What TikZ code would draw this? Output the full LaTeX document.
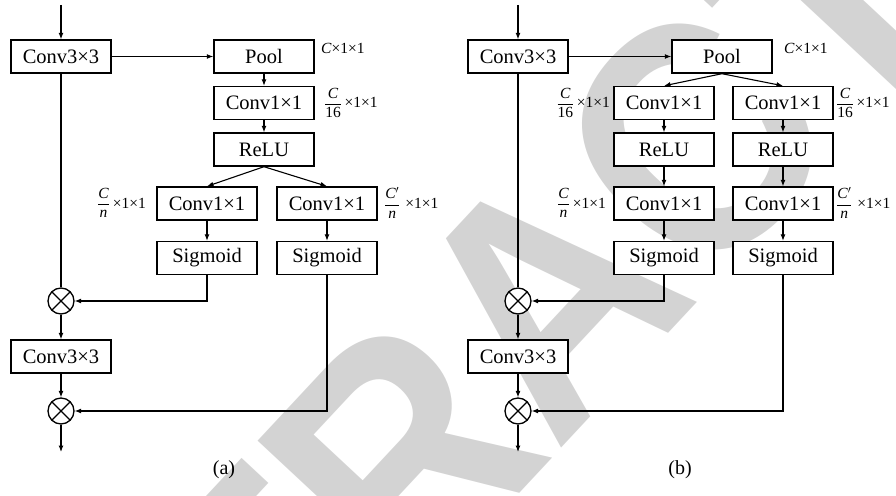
\documentclass[tikz,border=0pt]{standalone}
\usepackage{graphicx}
\usepackage{fontspec}
\setmainfont{Liberation Serif}
\newfontfamily\wmfont{Liberation Sans}
\usetikzlibrary{arrows.meta}
\definecolor{wmgray}{RGB}{211,211,211}
\newcommand{\dimfrac}[2]{$\displaystyle\frac{\mbox{\itshape #1}}{\mbox{#2}}$}
\tikzset{
  blk/.style={draw, fill=white, line width=1.4pt, minimum width=100pt,
    minimum height=33pt, inner sep=0pt, font=\fontsize{20.5}{24}\selectfont},
  mult/.style={draw, circle, fill=white, line width=1.3pt, minimum size=26pt,
    inner sep=0pt, path picture={
      \draw[line width=1.2pt] (path picture bounding box.south west) -- (path picture bounding box.north east)
        (path picture bounding box.north west) -- (path picture bounding box.south east);}},
  dimlbl/.style={inner sep=0pt, font=\fontsize{15.5}{17}\selectfont},
  subcap/.style={font=\fontsize{20}{24}\selectfont},
  arr/.style={line width=1.1pt, -{Latex[length=6.5pt,width=5pt]}},
  ln/.style={line width=1.1pt},
}
\begin{document}
\begin{tikzpicture}[x=1pt, y=-1pt]
\useasboundingbox (0,0) rectangle (896,495);
% watermark behind the diagram
\begin{scope}
  \clip (0,0) rectangle (896,495);
  \node[wmgray, rotate=47, inner sep=0pt, font=\wmfont\bfseries\fontsize{330}{340}\selectfont]
    (wm) at (547,298) {\scalebox{0.9}[1]{RETRACTED}};
\end{scope}

% ---------- (a) ----------
\coordinate (ina) at (61,5);
\node[blk] (c3a) at (61,56.5) {Conv3×3};
\node[blk] (poola) at (264,56.5) {Pool};
\node[blk] (c1a) at (264,103) {Conv1×1};
\node[blk] (relua) at (264,149.5) {ReLU};
\node[blk] (cla) at (207,203.5) {Conv1×1};
\node[blk] (cra) at (327,203.5) {Conv1×1};
\node[blk] (sla) at (207,258) {Sigmoid};
\node[blk] (sra) at (327,258) {Sigmoid};
\node[mult] (m1a) at (61,301) {};
\node[blk] (c3a2) at (61,356.5) {Conv3×3};
\node[mult] (m2a) at (61,411) {};
\coordinate (outa) at (61,452);
\node[subcap] (capa) at (224,470) {(a)};

\node[dimlbl, anchor=west] (la1) at (321,48) {\textit{C}×1×1};
\node[dimlbl, anchor=west] (la2) at (324,103) {\dimfrac{C}{16}\,×1×1};
\node[dimlbl, anchor=east] (la3) at (146,203) {\dimfrac{C}{\itshape n}\hspace{3pt}×1×1};
\node[dimlbl, anchor=west] (la4) at (384,203) {\dimfrac{C$'$}{\itshape n}\hspace{5pt}×1×1};

\draw[arr] (ina) -- (c3a);
\draw[arr] (c3a) -- (poola);
\draw[arr] (poola) -- (c1a);
\draw[arr] (c1a) -- (relua);
\draw[arr] (relua.south) -- (cla.north);
\draw[arr] (relua.south) -- (cra.north);
\draw[arr] (cla) -- (sla);
\draw[arr] (cra) -- (sra);
\draw[ln] (c3a) -- (m1a);
\draw[arr] (sla.south) |- (m1a.east);
\draw[arr] (m1a) -- (c3a2);
\draw[arr] (c3a2) -- (m2a);
\draw[arr] (sra.south) |- (m2a.east);
\draw[arr] (m2a) -- (outa);

% ---------- (b) ----------
\coordinate (inb) at (518,5);
\node[blk] (c3b) at (518,56.5) {Conv3×3};
\node[blk] (poolb) at (722,56.5) {Pool};
\node[blk] (lb1) at (664,103) {Conv1×1};
\node[blk] (rb1) at (783,103) {Conv1×1};
\node[blk] (lb2) at (664,149.5) {ReLU};
\node[blk] (rb2) at (783,149.5) {ReLU};
\node[blk] (lb3) at (664,203.5) {Conv1×1};
\node[blk] (rb3) at (783,203.5) {Conv1×1};
\node[blk] (lb4) at (664,258) {Sigmoid};
\node[blk] (rb4) at (783,258) {Sigmoid};
\node[mult] (m1b) at (518,301) {};
\node[blk] (c3b2) at (518,356.5) {Conv3×3};
\node[mult] (m2b) at (518,411) {};
\coordinate (outb) at (518,452);
\node[subcap] (capb) at (680,470) {(b)};

\node[dimlbl, anchor=west] (lb1l) at (784,48) {\textit{C}×1×1};
\node[dimlbl, anchor=east] (lb2l) at (610,103) {\dimfrac{C}{16}\,×1×1};
\node[dimlbl, anchor=west] (lb3l) at (836,103) {\dimfrac{C}{16}\,×1×1};
\node[dimlbl, anchor=east] (lb4l) at (606,203) {\dimfrac{C}{\itshape n}\hspace{3pt}×1×1};
\node[dimlbl, anchor=west] (lb5l) at (836,203) {\dimfrac{C$'$}{\itshape n}\hspace{5pt}×1×1};

\draw[arr] (inb) -- (c3b);
\draw[arr] (c3b) -- (poolb);
\draw[arr] (poolb.south) -- (lb1.north);
\draw[arr] (poolb.south) -- (rb1.north);
\draw[arr] (lb1) -- (lb2);
\draw[arr] (rb1) -- (rb2);
\draw[arr] (lb2) -- (lb3);
\draw[arr] (rb2) -- (rb3);
\draw[arr] (lb3) -- (lb4);
\draw[arr] (rb3) -- (rb4);
\draw[ln] (c3b) -- (m1b);
\draw[arr] (lb4.south) |- (m1b.east);
\draw[arr] (m1b) -- (c3b2);
\draw[arr] (c3b2) -- (m2b);
\draw[arr] (rb4.south) |- (m2b.east);
\draw[arr] (m2b) -- (outb);
\end{tikzpicture}
\end{document}
